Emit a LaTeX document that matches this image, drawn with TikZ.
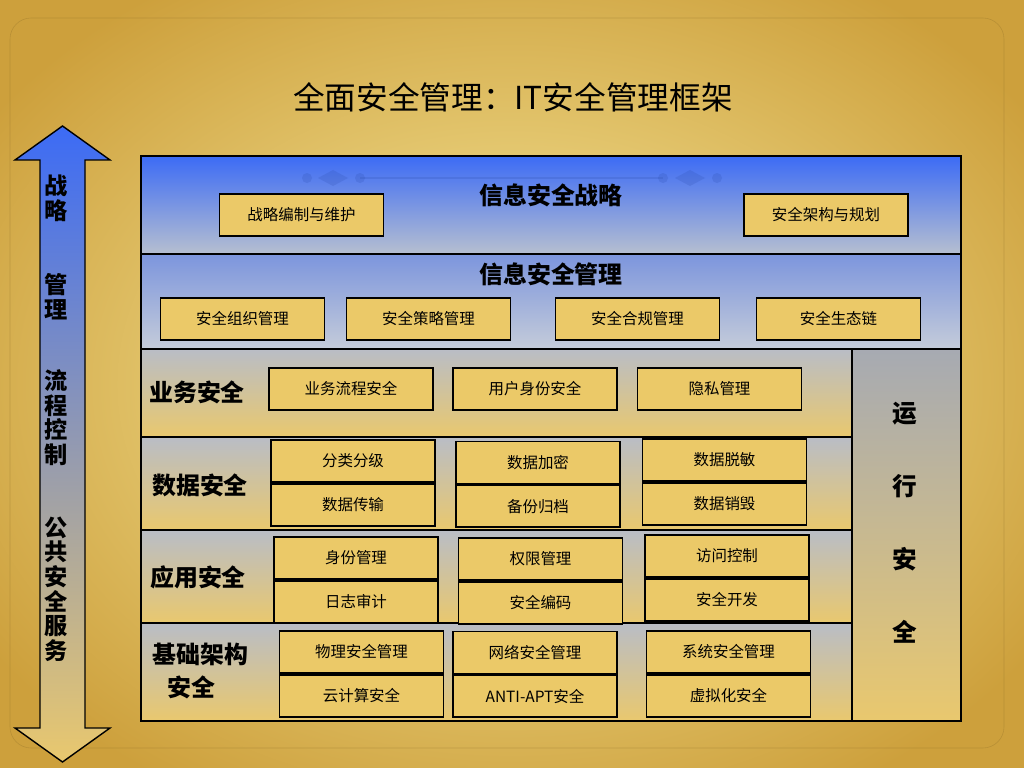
\documentclass[tikz,border=0pt]{standalone}
\usepackage{fontspec}
\setmainfont{Noto Sans CJK SC}
\usepackage{tikz}
\usetikzlibrary{positioning, shapes.geometric}
\usepackage{xcolor}
\definecolor{secblue}{RGB}{60,107,245}
\definecolor{secsky}{RGB}{124,149,221}
\definecolor{secmist}{RGB}{182,191,208}
\definecolor{secgray}{RGB}{185,189,198}
\definecolor{seclilac}{RGB}{203,191,201}
\definecolor{secsand}{RGB}{233,200,110}
\definecolor{seccell}{RGB}{235,201,104}
\definecolor{secbglight}{RGB}{249,236,160}
\definecolor{secbgdark}{RGB}{205,160,60}

\begin{document}
\begin{tikzpicture}[
  x=0.025cm, y=-0.025cm,
  band/.style={draw=black, line width=1.3pt, inner sep=0pt, anchor=north west},
  lowband/.style={band, minimum width=17.775cm,
                  top color=secgray, middle color=seclilac, bottom color=secsand},
  cell/.style={draw=black, fill=seccell, line width=1.3pt,
               minimum width=4.1cm, minimum height=1.05cm, inner sep=0pt,
               font=\fontsize{11}{13}\selectfont},
  bandtitle/.style={font=\fontsize{17}{20}\selectfont\bfseries},
  sidelabel/.style={font=\fontsize{17}{24}\selectfont\bfseries, align=center},
  arrowtext/.style={font=\fontsize{16.5}{17.5}\selectfont\bfseries, align=center}
]
% background
\useasboundingbox (0,0) rectangle (1024,768);
\shade[inner color=secbglight, outer color=secbgdark] (-120,-90) rectangle (1144,858);
\draw[secbgdark!70!black, opacity=0.35, rounded corners=15] (10,18) rectangle (1004,748);

\node[font=\fontsize{22.5}{26}\selectfont] (title) at (513,97) {全面安全管理：IT安全管理框架};

% left arrow
\shade[draw=black, line width=1pt, top color=secblue, middle color=seclilac!80!secsky,
       bottom color=secsand]
  (62.5,126) -- (110,160) -- (85,160) -- (85,728) -- (110,728) -- (62.5,762)
  -- (15,728) -- (40,728) -- (40,160) -- (15,160) -- cycle;
\node[arrowtext] (a1) at (56,198.5) {战\\略};
\node[arrowtext] (a2) at (56,297) {管\\理};
\node[arrowtext] (a3) at (56,417.5) {流\\程\\控\\制};
\node[arrowtext] (a4) at (56,589) {公\\共\\安\\全\\服\\务};

% bands
\node[band, minimum width=20.5cm, minimum height=2.45cm,
      top color=secblue, bottom color=secmist] (b1) at (140,155) {};
\node[band, minimum width=20.5cm, minimum height=2.375cm,
      top color=secsky, bottom color=secmist!80!white] (b2) at (140,253) {};
\node[lowband, minimum height=2.2cm] (b3) at (140,348) {};
\node[lowband, minimum height=2.325cm] (b4) at (140,436) {};
\node[lowband, minimum height=2.325cm] (b5) at (140,529) {};
\node[lowband, minimum height=2.45cm] (b6) at (140,622) {};
\node[band, minimum width=2.725cm, minimum height=9.3cm,
      top color=secgray!90!black, middle color=seclilac!90!secsand,
      bottom color=secsand] (b7) at (851,348) {};

% ornament line
\begin{scope}[fill=secblue!70!black, draw=secblue!70!black, opacity=0.2]
  \draw[line width=1.5pt] (360,178) -- (663,178);
  \foreach \x in {307,360,663,717} \fill (\x,178) circle (5);
  \foreach \x in {333,690} \fill (\x-15,178) -- (\x,170) -- (\x+15,178) -- (\x,186) -- cycle;
\end{scope}

\node[bandtitle] (t1) at (551,195) {信息安全战略};
\node[bandtitle] (t2) at (551,274) {信息安全管理};
\node[sidelabel] (l3) at (197,392) {业务安全};
\node[sidelabel] (l4) at (200,485) {数据安全};
\node[sidelabel] (l5) at (198,577) {应用安全};
\node[sidelabel, align=left, anchor=west] (l6) at (148,671) {基础架构\\\hspace{0.6em}安全};
\node[font=\fontsize{17.5}{52}\selectfont\bfseries, align=center] (l7) at (905,523)
  {运\\行\\安\\全};

% single boxes
\node[cell] (s1) at (301.5,215) {战略编制与维护};
\node[cell] (s2) at (826,215) {安全架构与规划};
\foreach \x/\t [count=\i] in {242.5/安全组织管理, 428.5/安全策略管理,
                               637.5/安全合规管理, 838.5/安全生态链}
  \node[cell] (m\i) at (\x,319) {\t};
\foreach \x/\t [count=\i] in {351/业务流程安全, 535/用户身份安全, 719.5/隐私管理}
  \node[cell] (u\i) at (\x,389) {\t};

% stacked boxes
\foreach \x/\y/\a/\b/\n in {
    353/461/分类分级/数据传输/d1, 538/462.5/数据加密/备份归档/d2,
    724.5/460/数据脱敏/数据销毁/d3,
    356/558/身份管理/日志审计/p1, 540.5/559/权限管理/安全编码/p2,
    727/556/访问控制/安全开发/p3,
    361.5/652/物理安全管理/云计算安全/i1, 535/652.5/网络安全管理/ANTI-APT安全/i2,
    728.5/652/系统安全管理/虚拟化安全/i3} {
  \node[cell] (\n a) at (\x,\y) {\a};
  \node[cell, below=0pt of \n a] (\n b) {\b};
}
\end{tikzpicture}
\end{document}
